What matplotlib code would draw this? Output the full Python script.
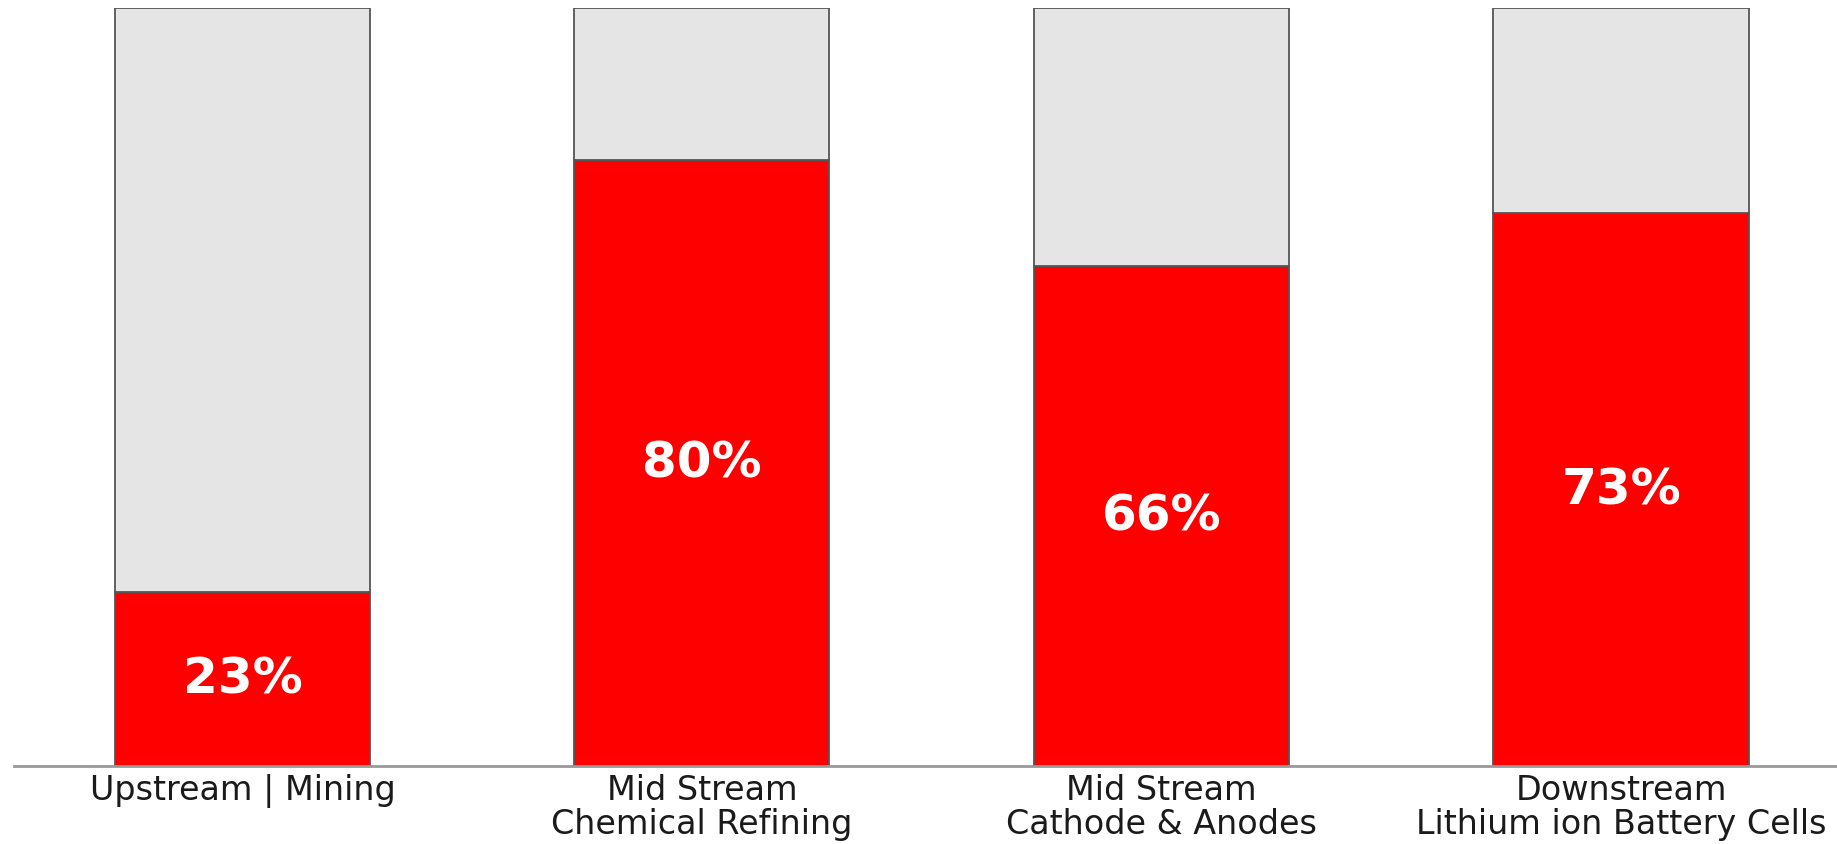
import numpy as np
import matplotlib
matplotlib.use('Agg')
import matplotlib.pyplot as plt

# данные
categories = ['Upstream | Mining', 'Mid Stream\nChemical Refining',
              'Mid Stream\nCathode & Anodes', 'Downstream\nLithium ion Battery Cells']
share = [23, 80, 66, 73]
total = [100, 100, 100, 100]

plt.rcParams['font.family'] = ['DejaVu Sans']

fig = plt.figure(figsize=(18.37, 8.45), dpi=100)
ax = fig.add_axes([14 / 1837, 78 / 845, 1 - 14 / 1837, 758 / 845])

x = np.arange(len(categories))
rest = [t - s for t, s in zip(total, share)]

ax.bar(x, share, width=0.555, color='#ff0000', edgecolor='#555555', linewidth=1.3, zorder=2)
ax.bar(x, rest, bottom=share, width=0.555, color='#e5e5e5', edgecolor='#555555', linewidth=1.3, zorder=2)

# подписи процентов в середине красной части
for xi, s in zip(x, share):
    ax.text(xi, s / 2, f'{s}%', ha='center', va='center', color='white',
            fontsize=36, fontweight='bold', zorder=3)

ax.set_xlim(-0.497, 3.47)
ax.set_ylim(0, 100)
ax.set_xticks(x)
ax.set_xticklabels(categories, fontsize=24, color='#1a1a1a', linespacing=1.03)
ax.tick_params(axis='x', length=0, pad=5)
ax.set_yticks([])
for side in ['top', 'right', 'left']:
    ax.spines[side].set_visible(False)
ax.spines['bottom'].set_color('#999999')
ax.spines['bottom'].set_linewidth(2)

fig.savefig('out.png', dpi=100)
